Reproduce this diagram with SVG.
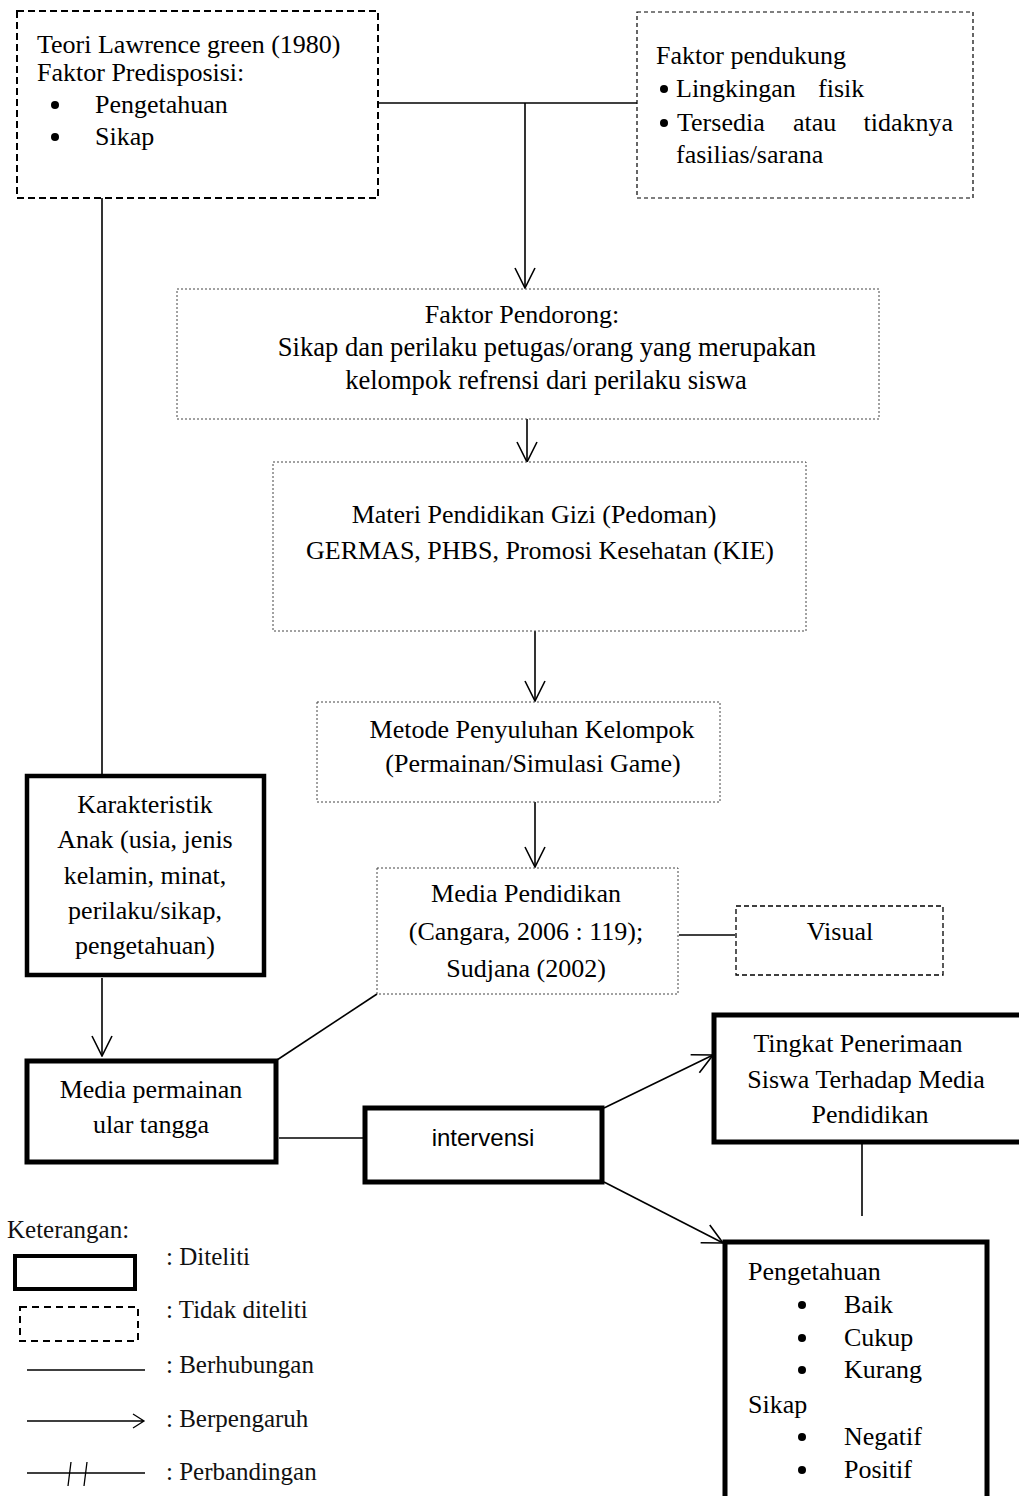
<svg xmlns="http://www.w3.org/2000/svg" width="1019" height="1496" viewBox="0 0 1019 1496">
<style>
text{font-family:"Liberation Serif","Times New Roman",serif;font-size:26px;fill:#000}
.c{text-anchor:middle}
.sans{font-family:"Liberation Sans",Arial,sans-serif;font-size:24px}
.lg{font-size:25px;fill:#111}
.dash{fill:#fff;stroke:#000;stroke-width:2;stroke-dasharray:7 4}
.dash2{fill:#fff;stroke:#000;stroke-width:1.2;stroke-dasharray:4 3}
.dot{fill:#fff;stroke:#444;stroke-width:1;stroke-dasharray:2 2}
.thick{fill:#fff;stroke:#000;stroke-width:5}
.ln{fill:none;stroke:#000;stroke-width:1.6}
.arr{fill:none;stroke:#000;stroke-width:1.6;marker-end:url(#ah)}
</style>
<defs>
<marker id="ah" markerUnits="userSpaceOnUse" viewBox="-21 -11 22 22" markerWidth="22" markerHeight="22" refX="0" refY="0" orient="auto">
<path d="M-20,-10 L0,0 L-20,10" fill="none" stroke="#000" stroke-width="1.6"/>
</marker>
</defs>
<rect width="1019" height="1496" fill="#fff"/>

<g id="connectors">
<path class="ln" d="M378,103 H637"/>
<path class="arr" d="M525,103 V288"/>
<path class="arr" d="M527,419 V462"/>
<path class="arr" d="M535,631 V701"/>
<path class="arr" d="M535,802 V867"/>
<path class="ln" d="M102,198 V776"/>
<path class="arr" d="M102,978 V1056"/>
<path class="ln" d="M277,1060 L377,994"/>
<path class="ln" d="M679,935 H735"/>
<path class="ln" d="M279,1138 H365"/>
<path class="arr" d="M604,1108 L713,1055"/>
<path class="arr" d="M604,1182 L723,1243"/>
<path class="ln" d="M862,1143 V1216"/>
</g>

<g id="node-teori">
<rect class="dash" x="17" y="11" width="361" height="187"/>
<text x="37" y="53">Teori Lawrence green (1980)</text>
<text x="37" y="81">Faktor Predisposisi:</text>
<circle cx="55" cy="105" r="4"/>
<text x="95" y="113">Pengetahuan</text>
<circle cx="55" cy="137" r="4"/>
<text x="95" y="145">Sikap</text>
</g>

<g id="node-pendukung">
<rect class="dash2" x="637" y="12" width="336" height="186"/>
<text x="656" y="64">Faktor pendukung</text>
<circle cx="664" cy="89" r="4"/>
<text x="676" y="97">Lingkingan</text>
<text x="818" y="97">fisik</text>
<circle cx="664" cy="123" r="4"/>
<text x="677" y="131">Tersedia</text>
<text x="793" y="131">atau</text>
<text x="953" y="131" text-anchor="end">tidaknya</text>
<text x="676" y="163">fasilias/sarana</text>
</g>

<g id="node-pendorong">
<rect class="dot" x="177" y="289" width="702" height="130"/>
<text class="c" x="522" y="323">Faktor Pendorong:</text>
<text class="c" x="547" y="356" style="font-size:26.6px">Sikap dan perilaku petugas/orang yang merupakan</text>
<text class="c" x="546" y="389" style="font-size:26.6px">kelompok refrensi dari perilaku siswa</text>
</g>

<g id="node-materi">
<rect class="dot" x="273" y="462" width="533" height="169"/>
<text class="c" x="534" y="523">Materi Pendidikan Gizi (Pedoman)</text>
<text class="c" x="540" y="559">GERMAS, PHBS, Promosi Kesehatan (KIE)</text>
</g>

<g id="node-metode">
<rect class="dot" x="317" y="702" width="403" height="100"/>
<text class="c" x="532" y="738">Metode Penyuluhan Kelompok</text>
<text class="c" x="533" y="772">(Permainan/Simulasi Game)</text>
</g>

<g id="node-media-pendidikan">
<rect class="dot" x="377" y="868" width="301" height="126"/>
<text class="c" x="526" y="902">Media Pendidikan</text>
<text class="c" x="526" y="940">(Cangara, 2006 : 119);</text>
<text class="c" x="526" y="977">Sudjana (2002)</text>
</g>

<g id="node-visual">
<rect class="dash2" x="736" y="906" width="207" height="69" style="stroke-dasharray:5 3;stroke-width:1.3"/>
<text class="c" x="840" y="940">Visual</text>
</g>

<g id="node-karakteristik">
<rect class="thick" x="27" y="776" width="237" height="199" style="stroke-width:4.5"/>
<text class="c" x="145" y="813">Karakteristik</text>
<text class="c" x="145" y="848">Anak (usia, jenis</text>
<text class="c" x="145" y="884">kelamin, minat,</text>
<text class="c" x="145" y="919">perilaku/sikap,</text>
<text class="c" x="145" y="954">pengetahuan)</text>
</g>

<g id="node-media-permainan">
<rect class="thick" x="27" y="1061" width="249" height="101"/>
<text class="c" x="151" y="1098">Media permainan</text>
<text class="c" x="151" y="1133">ular tangga</text>
</g>

<g id="node-intervensi">
<rect class="thick" x="365" y="1108" width="237" height="74"/>
<text class="c sans" x="483" y="1146">intervensi</text>
</g>

<g id="node-tingkat">
<rect class="thick" x="714" y="1015" width="310" height="127"/>
<text class="c" x="858" y="1052">Tingkat Penerimaan</text>
<text class="c" x="866" y="1088">Siswa Terhadap Media</text>
<text class="c" x="870" y="1123">Pendidikan</text>
</g>

<g id="node-pengetahuan">
<rect class="thick" x="725" y="1242" width="262" height="270"/>
<text x="748" y="1280">Pengetahuan</text>
<circle cx="802" cy="1305" r="4"/>
<text x="844" y="1313">Baik</text>
<circle cx="802" cy="1338" r="4"/>
<text x="844" y="1346">Cukup</text>
<circle cx="802" cy="1370" r="4"/>
<text x="844" y="1378">Kurang</text>
<text x="748" y="1413">Sikap</text>
<circle cx="802" cy="1437" r="4"/>
<text x="844" y="1445">Negatif</text>
<circle cx="802" cy="1470" r="4"/>
<text x="844" y="1478">Positif</text>
</g>

<g id="legend">
<text class="lg" x="7" y="1238">Keterangan:</text>
<rect x="15" y="1256" width="120" height="33" fill="none" stroke="#000" stroke-width="4"/>
<text class="lg" x="166" y="1265">: Diteliti</text>
<rect x="20" y="1307" width="118" height="34" fill="none" stroke="#000" stroke-width="2" stroke-dasharray="7 5"/>
<text class="lg" x="166" y="1318">: Tidak diteliti</text>
<path d="M27,1370 H145" stroke="#000" stroke-width="1.3" fill="none"/>
<text class="lg" x="166" y="1373">: Berhubungan</text>
<path d="M27,1421 H144 M133,1414 L144,1421 L133,1428" stroke="#000" stroke-width="1.3" fill="none"/>
<text class="lg" x="166" y="1427">: Berpengaruh</text>
<path d="M27,1473 H145 M68,1486 L71,1462 M84,1486 L87,1462" stroke="#000" stroke-width="1.3" fill="none"/>
<text class="lg" x="166" y="1480">: Perbandingan</text>
</g>
</svg>
